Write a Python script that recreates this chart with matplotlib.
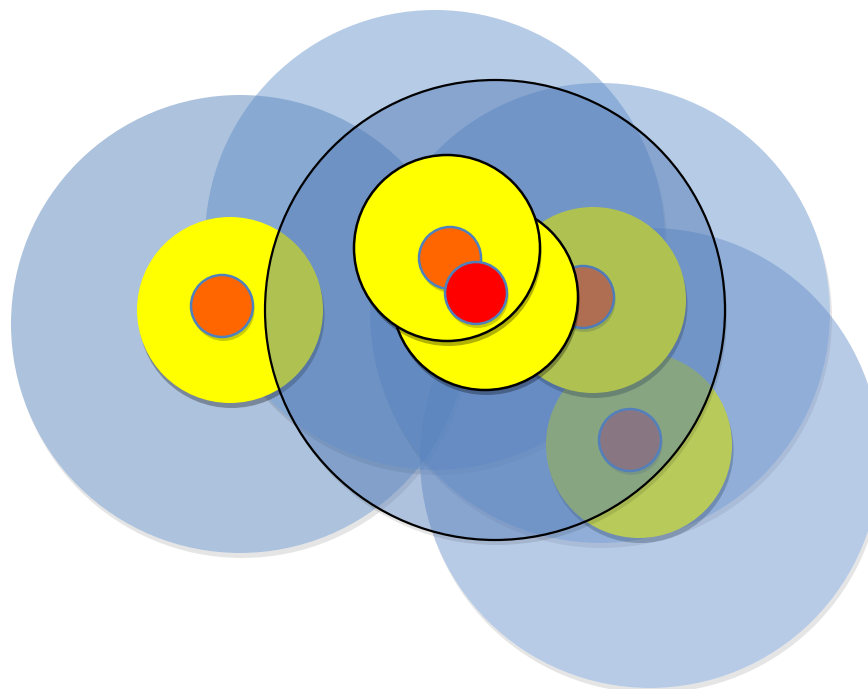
import numpy as np
import matplotlib
matplotlib.use("Agg")
import matplotlib.pyplot as plt
from matplotlib.patches import Circle
from matplotlib.path import Path

# big translucent blue circles (pixel coords, y down)
big_names = ["left", "top", "right"]
big_x = [240, 435, 600]
big_y = [324, 240, 313]
big_r = [229, 230, 230]
big_colors = [(73, 120, 178), (93, 140, 200), (93, 140, 200)]

# bottom-right blue circle (sits above the lower yellow ring)
br_x, br_y, br_r = 650, 458, 230
br_color = (98, 140, 200)

# black outlined blue circle
ring_x, ring_y, ring_r = 495, 310, 230
ring_color = (79, 120, 180)

# yellow discs
yellow_x = [230, 593, 639, 485, 447]
yellow_y = [310, 300, 445, 297, 248]
yellow_r = 93
yellow_outlined = [False, False, False, True, True]

# small discs
dot_x = [222, 583, 630, 450, 476]
dot_y = [306, 297, 440, 258, 293]
dot_r = 31
dot_colors = ["#ff6600", "#ff6600", "#ff6600", "#ff6600", "#ff0000"]

ALPHA = 0.45
W, H = 868, 689

fig = plt.figure(figsize=(W / 100, H / 100), dpi=100)
ax = fig.add_axes([0, 0, 1, 1])
ax.set_xlim(0, W)
ax.set_ylim(H, 0)
ax.set_aspect("equal")
ax.axis("off")


def rgb(c):
    return tuple(v / 255 for v in c)


def outer_shadow(x, y, r, z, dx=2, dy=5, alpha=0.1):
    # shadow only where it peeks out of a translucent circle
    sh = Circle((x + dx, y + dy), r, facecolor="black", edgecolor="none",
                alpha=alpha, zorder=z)
    ax.add_patch(sh)
    t = np.linspace(0, 2 * np.pi, 400)
    box = [(-100, -100), (W + 100, -100), (W + 100, H + 100), (-100, H + 100), (-100, -100)]
    hole = list(zip(x + r * np.cos(-t), y + r * np.sin(-t)))
    verts = box + hole
    codes = ([Path.MOVETO] + [Path.LINETO] * 4 +
             [Path.MOVETO] + [Path.LINETO] * (len(hole) - 1))
    sh.set_clip_path(Path(verts, codes), ax.transData)


def blue(x, y, r, color, z, edge="none"):
    outer_shadow(x, y, r, z)
    ax.add_patch(Circle((x, y), r, facecolor=rgb(color), alpha=ALPHA,
                        edgecolor="none", zorder=z))
    if edge != "none":
        ax.add_patch(Circle((x, y), r, facecolor="none", edgecolor=edge,
                            lw=1.6, zorder=z + 0.01))


def yellow(i, z):
    x, y = yellow_x[i], yellow_y[i]
    ax.add_patch(Circle((x + 1.5, y + 5), yellow_r, facecolor="black",
                        edgecolor="none", alpha=0.3, zorder=z))
    ax.add_patch(Circle((x, y), yellow_r, facecolor="#ffff00",
                        edgecolor="black" if yellow_outlined[i] else "none",
                        lw=1.8, zorder=z + 0.01))


def dot(i, z):
    x, y = dot_x[i], dot_y[i]
    ax.add_patch(Circle((x + 1.5, y + 4), dot_r, facecolor="black",
                        edgecolor="none", alpha=0.2, zorder=z))
    ax.add_patch(Circle((x, y), dot_r, facecolor=dot_colors[i],
                        edgecolor="#4f81bd", lw=1.8, zorder=z + 0.01))


# layering, bottom to top
for k in range(len(big_x)):
    blue(big_x[k], big_y[k], big_r[k], big_colors[k], 1 + k * 0.1)

yellow(2, 2)
dot(2, 2.1)
blue(br_x, br_y, br_r, br_color, 3)
yellow(1, 4)
dot(1, 4.1)
yellow(0, 5)
dot(0, 5.1)
blue(ring_x, ring_y, ring_r, ring_color, 6, edge="black")
yellow(3, 7)
yellow(4, 7.2)
dot(3, 7.4)
dot(4, 7.6)

fig.savefig("out.png", dpi=100, facecolor="white")
